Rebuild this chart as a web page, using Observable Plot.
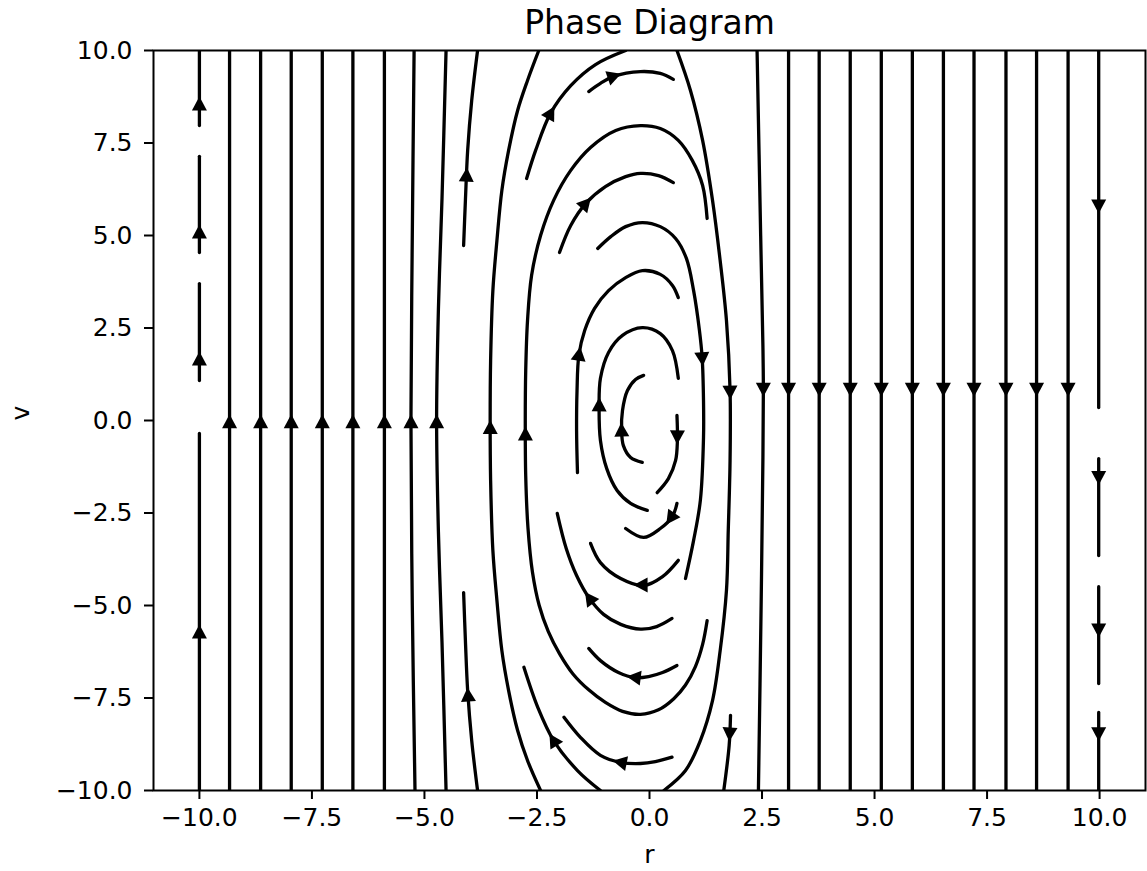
<!DOCTYPE html>
<html>
<head>
<meta charset="utf-8">
<script src="https://cdn.jsdelivr.net/npm/d3@7"></script>
<script src="https://cdn.jsdelivr.net/npm/@observablehq/plot@0.6"></script>
<style>
  html, body { margin: 0; padding: 0; background: #ffffff; }
</style>
</head>
<body>
<div id="chart"></div>
<script>
// ---------- text ----------
const titleText = "Phase Diagram";
const xLabelText = "r";
const yLabelText = "v";
const xTicks = [-10, -7.5, -5, -2.5, 0, 2.5, 5, 7.5, 10];
const yTicks = [-10, -7.5, -5, -2.5, 0, 2.5, 5, 7.5, 10];

// ---------- straight streamlines ----------
// upward lines left of the centre: r position, arrow at v = leftArrowV
const leftLineR = [-9.33, -8.64, -7.96, -7.27, -6.59, -5.89];
const leftArrowV = -0.05;
// downward lines right of the centre: r position, arrow at v = rightArrowV
const rightLineR = [3.09, 3.77, 4.46, 5.15, 5.84, 6.53, 7.21, 7.92, 8.60, 9.30];
const rightArrowV = 0.86;
// broken lines on the edges r = -10 (up) and r = 10 (down): [v start, v end, v arrow]
const edgeLeftR = -10;
const edgeLeftSegments = [[-10, -0.35, -5.73], [1.08, 3.70, 1.65], [4.54, 7.14, 5.08], [7.97, 10, 8.54]];
const edgeRightR = 9.98;
const edgeRightSegments = [[10, 0.35, 5.81], [-1.03, -3.65, -1.53], [-4.49, -7.11, -5.65], [-7.89, -10, -8.45]];

// ---------- bent streamlines, points [r, v] in flow order ----------
const lineL7 = [[-5.21, -10], [-5.27, -5], [-5.30, 0], [-5.27, 5], [-5.23, 10]];
const arrowL7 = [-5.30, -0.05];
const lineL8 = [[-4.52, -10], [-4.61, -6], [-4.69, -3], [-4.73, 0], [-4.69, 3], [-4.61, 6], [-4.52, 10]];
const arrowL8 = [-4.73, -0.05];
const lineR0 = [[2.39, 10], [2.47, 5], [2.52, 2], [2.53, 0.86], [2.52, -1], [2.48, -5], [2.42, -10]];
const arrowR0 = [2.53, 0.86];

const s1 = [[-4.13, 4.73], [-4.09, 5.95], [-4.04, 7.30], [-3.95, 8.65], [-3.82, 10]];
const a1 = [-4.06, 6.62];
const s2 = [[-3.82, -10], [-3.95, -8.65], [-4.04, -7.30], [-4.09, -5.95], [-4.13, -4.65]];
const a2 = [-3.99, -7.43];
const s3 = [[-2.42, -10], [-2.71, -9.19], [-2.93, -8.38], [-3.13, -7.30], [-3.28, -6.22], [-3.39, -4.86], [-3.48, -3.51], [-3.53, -1.62], [-3.54, 0], [-3.53, 1.62], [-3.48, 3.51], [-3.39, 4.86], [-3.28, 6.22], [-3.13, 7.30], [-2.93, 8.38], [-2.71, 9.19], [-2.46, 10]];
const a3 = [-3.54, -0.2];
const s4 = [[1.28, -5.41], [1.18, -6.05], [1.02, -6.65], [0.80, -7.15], [0.54, -7.52], [0.20, -7.82], [-0.20, -7.94], [-0.60, -7.86], [-0.98, -7.62], [-1.35, -7.28], [-1.70, -6.85], [-2.00, -6.30], [-2.25, -5.70], [-2.45, -5.00], [-2.60, -4.10], [-2.70, -2.90], [-2.75, -1.50], [-2.76, 0], [-2.75, 1.35], [-2.71, 2.70], [-2.62, 3.92], [-2.42, 5.00], [-2.13, 5.95], [-1.75, 6.76], [-1.31, 7.38], [-0.75, 7.84], [-0.20, 7.97], [0.24, 7.89], [0.64, 7.57], [0.95, 7.03], [1.18, 6.35], [1.28, 5.46]];
const a4 = [-2.76, -0.38];
const s5 = [[0.61, 10], [0.91, 8.92], [1.18, 7.57], [1.40, 5.95], [1.57, 4.32], [1.71, 2.70], [1.79, 0.81], [1.79, -1.08], [1.75, -2.97], [1.71, -4.59], [1.57, -6.22], [1.40, -7.57], [1.13, -8.65], [0.80, -9.46], [0.32, -10]];
const a5 = [1.79, 0.78];
const s6 = [[-2.73, 6.54], [-2.53, 7.30], [-2.20, 8.30], [-1.75, 9.05], [-1.20, 9.62], [-0.53, 10]];
const a6 = [-2.20, 8.30];
const s7 = [[-1.35, 8.89], [-1.09, 9.11], [-0.80, 9.30], [-0.20, 9.43], [0.24, 9.38], [0.53, 9.22]];
const a7 = [-0.80, 9.30];
const s8 = [[-2.00, 4.54], [-1.75, 5.27], [-1.42, 5.86], [-0.98, 6.32], [-0.53, 6.59], [-0.20, 6.68], [0.20, 6.62], [0.53, 6.43]];
const a8 = [-1.42, 5.86];
const s9 = [[-1.15, 4.65], [-0.86, 4.97], [-0.53, 5.24], [-0.16, 5.35], [0.24, 5.24], [0.58, 4.92], [0.82, 4.38], [0.98, 3.51], [1.11, 2.43], [1.17, 1.70], [1.20, 0.54], [1.20, -0.46], [1.13, -2.16], [0.98, -3.24], [0.80, -4.27]];
const a9 = [1.17, 1.68];
const s10 = [[-1.60, -1.41], [-1.62, -0.27], [-1.61, 0.81], [-1.57, 1.76], [-1.44, 2.43], [-1.22, 3.03], [-0.91, 3.51], [-0.53, 3.86], [-0.16, 4.05], [0.24, 3.95], [0.51, 3.65], [0.64, 3.32]];
const a10 = [-1.57, 1.78];
const s11 = [[-0.05, -2.43], [-0.42, -2.24], [-0.72, -1.89], [-0.95, -1.30], [-1.09, -0.54], [-1.12, 0.35], [-1.09, 1.14], [-0.91, 1.84], [-0.60, 2.30], [-0.16, 2.51], [0.24, 2.35], [0.51, 1.89], [0.64, 1.14]];
const a11 = [-1.11, 0.41];
const s12 = [[-0.16, -1.13], [-0.42, -1.00], [-0.58, -0.68], [-0.62, -0.27], [-0.60, 0.27], [-0.49, 0.81], [-0.31, 1.11], [-0.13, 1.22]];
const a12 = [-0.62, -0.27];
const s13 = [[0.61, 0.14], [0.62, -0.54], [0.58, -1.08], [0.42, -1.57], [0.17, -1.95]];
const a13 = [0.62, -0.43];
const s14 = [[0.61, -2.24], [0.51, -2.59], [0.24, -2.92], [-0.13, -3.16], [-0.53, -2.92]];
const a14 = [0.49, -2.65];
const s15 = [[0.64, -3.78], [0.29, -4.22], [-0.13, -4.46], [-0.64, -4.27], [-1.09, -3.84], [-1.31, -3.32]];
const a15 = [-0.18, -4.46];
const s16 = [[0.50, -5.35], [0.16, -5.57], [-0.20, -5.64], [-0.64, -5.51], [-1.02, -5.24], [-1.35, -4.78], [-1.62, -4.19], [-1.85, -3.46], [-2.05, -2.51]];
const a16 = [-1.33, -4.81];
const s17 = [[0.61, -6.62], [0.29, -6.81], [-0.02, -6.92], [-0.31, -6.95], [-0.69, -6.81], [-1.09, -6.49], [-1.35, -6.16]];
const a17 = [-0.33, -6.95];
const s18 = [[0.50, -9.10], [0.13, -9.22], [-0.20, -9.27], [-0.64, -9.24], [-1.09, -9.05], [-1.53, -8.57], [-1.90, -8.02]];
const a18 = [-0.64, -9.24];
const s19 = [[-1.09, -10], [-1.60, -9.46], [-2.13, -8.65], [-2.48, -7.76], [-2.79, -6.67]];
const a19 = [-2.13, -8.65];
const s20 = [[1.80, -7.97], [1.77, -8.78], [1.65, -10]];
const a20 = [1.79, -8.46];

// ---------- layout ----------
const W = 1147, H = 871;
const ML = 153, MR = 2, MT = 50, MB = 81;
const xDomain = [-11.02, 11.02];
const yDomain = [-10, 10];
const kx = (W - ML - MR) / (xDomain[1] - xDomain[0]);
const ky = (H - MT - MB) / (yDomain[1] - yDomain[0]);

// ---------- assemble ----------
const streams = [];
leftLineR.forEach((r, i) => streams.push({id: "left" + i, pts: [[r, -10], [r, 10]], arrow: [r, leftArrowV]}));
rightLineR.forEach((r, i) => streams.push({id: "right" + i, pts: [[r, 10], [r, -10]], arrow: [r, rightArrowV]}));
edgeLeftSegments.forEach(([a, b, c], i) => streams.push({id: "edgeL" + i, pts: [[edgeLeftR, a], [edgeLeftR, b]], arrow: [edgeLeftR, c]}));
edgeRightSegments.forEach(([a, b, c], i) => streams.push({id: "edgeR" + i, pts: [[edgeRightR, a], [edgeRightR, b]], arrow: [edgeRightR, c]}));
[[lineL7, arrowL7], [lineL8, arrowL8], [lineR0, arrowR0],
 [s1, a1], [s2, a2], [s3, a3], [s4, a4], [s5, a5], [s6, a6], [s7, a7], [s8, a8], [s9, a9], [s10, a10],
 [s11, a11], [s12, a12], [s13, a13], [s14, a14], [s15, a15], [s16, a16], [s17, a17], [s18, a18], [s19, a19], [s20, a20]
].forEach(([pts, arrow], i) => streams.push({id: "curve" + i, pts, arrow}));

const rows = streams.flatMap(s => s.pts.map(([r, v]) => ({id: s.id, r, v})));

// arrow: project onto the stream, heading from the local tangent (screen space)
function arrowFor(s) {
  const P = s.pts.map(([r, v]) => [r * kx, -v * ky]);
  const q = [s.arrow[0] * kx, -s.arrow[1] * ky];
  let best = null;
  for (let i = 0; i < P.length - 1; i++) {
    const [x0, y0] = P[i], [x1, y1] = P[i + 1];
    const dx = x1 - x0, dy = y1 - y0;
    const L2 = dx * dx + dy * dy || 1;
    let t = ((q[0] - x0) * dx + (q[1] - y0) * dy) / L2;
    t = Math.max(0, Math.min(1, t));
    const px = x0 + t * dx, py = y0 + t * dy;
    const d = (px - q[0]) ** 2 + (py - q[1]) ** 2;
    if (!best || d < best.d) best = {d, i, t, px, py};
  }
  const dir = i => {
    const [x0, y0] = P[i], [x1, y1] = P[i + 1];
    const L = Math.hypot(x1 - x0, y1 - y0) || 1;
    return [(x1 - x0) / L, (y1 - y0) / L];
  };
  let [ux, uy] = dir(best.i);
  if (best.t < 0.5 && best.i > 0) {
    const w = 0.5 - best.t, [vx, vy] = dir(best.i - 1);
    ux = ux * (1 - w) + vx * w; uy = uy * (1 - w) + vy * w;
  } else if (best.t > 0.5 && best.i < P.length - 2) {
    const w = best.t - 0.5, [vx, vy] = dir(best.i + 1);
    ux = ux * (1 - w) + vx * w; uy = uy * (1 - w) + vy * w;
  }
  const angle = Math.atan2(ux, -uy) * 180 / Math.PI;
  return {r: best.px / kx, v: -best.py / ky, angle};
}
const arrows = streams.map(arrowFor);

// filled arrow head pointing up (rotated per datum)
const arrowHead = {
  draw(context) {
    context.moveTo(0, -8);
    context.lineTo(7.5, 6);
    context.lineTo(-7.5, 6);
    context.closePath();
  }
};

const fmt = d => (d < 0 ? "\u2212" : "") + Math.abs(d).toFixed(1);

const chart = Plot.plot({
  width: W,
  height: H,
  marginLeft: ML,
  marginRight: MR,
  marginTop: MT,
  marginBottom: MB,
  x: {domain: xDomain},
  y: {domain: yDomain},
  style: {fontFamily: "'DejaVu Sans', sans-serif", background: "#ffffff", color: "#000000", overflow: "visible"},
  marks: [
    Plot.line(rows, {x: "r", y: "v", z: "id", stroke: "#000000", strokeWidth: 3.3, clip: true, curve: "catmull-rom"}),
    Plot.dot(arrows, {x: "r", y: "v", rotate: "angle", symbol: arrowHead, r: 6, fill: "#000000", stroke: null}),
    Plot.frame({stroke: "#000000", strokeWidth: 2}),
    Plot.axisX(xTicks, {tickSize: 9, tickPadding: 9, tickFormat: fmt, fontSize: 25, strokeWidth: 2, label: null}),
    Plot.axisY(yTicks, {tickSize: 9, tickPadding: 12, tickFormat: fmt, fontSize: 25, strokeWidth: 2, label: null}),
    Plot.text([xLabelText], {text: d => d, frameAnchor: "bottom", lineAnchor: "middle", dy: 64, fontSize: 25}),
    Plot.text([yLabelText], {text: d => d, frameAnchor: "left", lineAnchor: "middle", dx: -133, rotate: -90, fontSize: 25}),
    Plot.text([titleText], {text: d => d, frameAnchor: "top", lineAnchor: "middle", dy: -27, fontSize: 33})
  ]
});
document.getElementById("chart").appendChild(chart);
</script>
</body>
</html>
